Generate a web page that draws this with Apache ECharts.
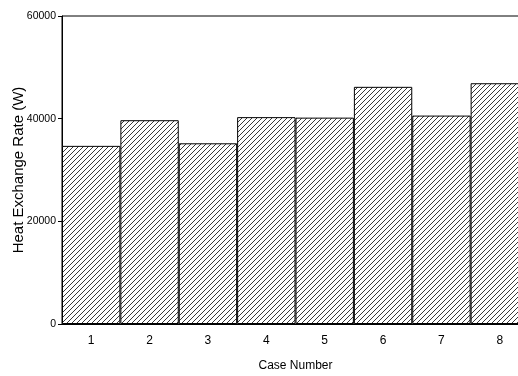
<!DOCTYPE html>
<html>
<head>
<meta charset="utf-8">
<script src="https://cdn.jsdelivr.net/npm/echarts@6/dist/echarts.min.js"></script>
<style>
html,body{margin:0;padding:0;background:#fff;}
#chart{width:518px;height:376px;}
</style>
</head>
<body>
<div id="chart"></div>
<script>
const categories = ['1','2','3','4','5','6','7','8'];
const heatRate = [34700, 39700, 35200, 40300, 40200, 46200, 40600, 46900];
const yTicks = [0, 20000, 40000, 60000];

function hatch() {
  const c = document.createElement('canvas');
  const s = 5;
  c.width = s; c.height = s;
  const g = c.getContext('2d');
  g.fillStyle = '#ffffff';
  g.fillRect(0, 0, s, s);
  g.strokeStyle = '#222';
  g.lineWidth = 0.9;
  g.beginPath();
  g.moveTo(-1, s + 1); g.lineTo(s + 1, -1);
  g.moveTo(-1, 1); g.lineTo(1, -1);
  g.moveTo(s - 1, s + 1); g.lineTo(s + 1, s - 1);
  g.stroke();
  return c;
}

const chart = echarts.init(document.getElementById('chart'));
const font = 'Liberation Sans, Arial, sans-serif';
chart.setOption({
  animation: false,
  backgroundColor: '#fff',
  grid: { left: 62, top: 16, bottom: 52, right: -11, containLabel: false,
          outerBoundsMode: 'none',
          show: true, borderColor: '#000', borderWidth: 1 },
  xAxis: {
    type: 'category',
    data: categories,
    name: 'Case Number',
    nameLocation: 'middle',
    nameGap: 36,
    nameMoveOverlap: false,
    nameTextStyle: { fontFamily: font, fontSize: 12, color: '#000' },
    axisLine: { lineStyle: { color: '#000', width: 1 } },
    axisTick: { alignWithLabel: true, length: 4, lineStyle: { color: '#000' } },
    axisLabel: { fontFamily: font, fontSize: 12, color: '#000', margin: 11 },
    splitLine: { show: false }
  },
  yAxis: {
    type: 'value',
    min: yTicks[0],
    max: yTicks[yTicks.length - 1],
    interval: yTicks[1] - yTicks[0],
    name: 'Heat Exchange Rate (W)',
    nameLocation: 'middle',
    nameGap: 36,
    nameMoveOverlap: false,
    nameTextStyle: { fontFamily: font, fontSize: 15, color: '#000' },
    axisLine: { show: true, lineStyle: { color: '#000', width: 1 } },
    axisTick: { show: true, length: 4, lineStyle: { color: '#000' } },
    axisLabel: { fontFamily: font, fontSize: 10.5, color: '#000', margin: 6,
                 formatter: v => String(v) },
    splitLine: { show: false }
  },
  series: [{
    type: 'bar',
    data: heatRate,
    barCategoryGap: '0%',
    itemStyle: {
      color: { image: hatch(), repeat: 'repeat' },
      borderColor: '#000',
      borderWidth: 1
    }
  }]
});
</script>
</body>
</html>
